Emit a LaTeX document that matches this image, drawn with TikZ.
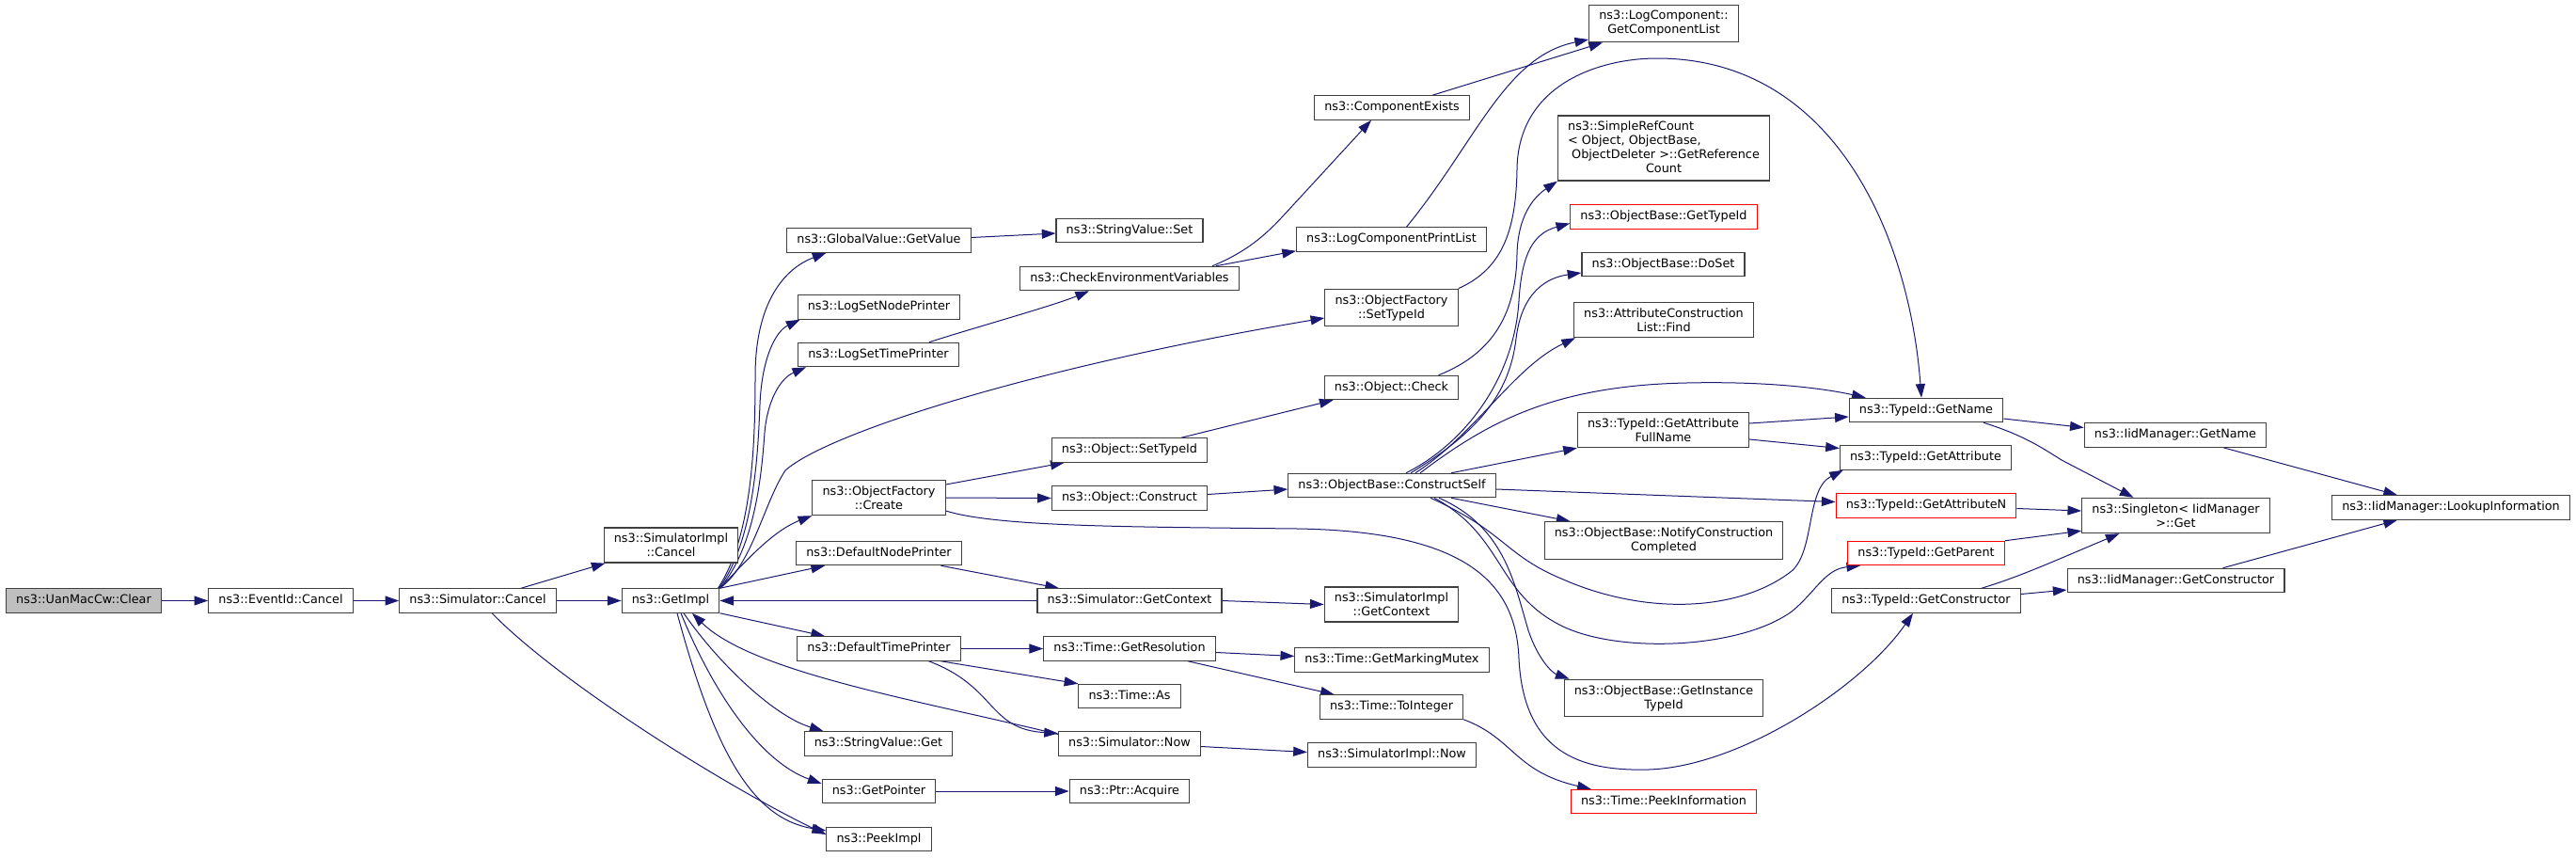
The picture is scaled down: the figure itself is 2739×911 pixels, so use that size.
\documentclass[tikz,border=0pt]{standalone}
\usepackage{fontspec}
\setmainfont{DejaVu Sans}
\usetikzlibrary{arrows.meta,calc}

\definecolor{edgeblue}{RGB}{25,25,112}
\definecolor{boxline}{RGB}{64,64,64}
\definecolor{rootfill}{RGB}{191,191,191}

\pgfdeclarelayer{edges}
\pgfsetlayers{edges,main}

\tikzset{every picture/.style={line width=0.75pt}}
\tikzset{
  fn/.style={draw=boxline, line width=0.9pt, fill=white, font=\fontsize{9.6}{11.25}\selectfont,
    inner xsep=8pt, inner ysep=0pt, minimum height=19pt, text height=7.3pt, text depth=2.3pt},
  fn2/.style={draw=boxline, line width=0.9pt, fill=white, font=\fontsize{9.6}{11.25}\selectfont,
    inner xsep=8pt, inner ysep=4.6pt, align=center},
  root/.style={fill=rootfill},
  undoc/.style={draw=red},
  call/.style={draw=edgeblue, line width=0.75pt, -{Triangle[length=11pt,width=7.5pt]}}
}

\begin{document}
\begin{tikzpicture}[x=0.75pt,y=0.75pt,yscale=-1,xscale=1]
        \useasboundingbox (0,0) rectangle (2739,911);

        % Text Nodes, column by column
        \node[fn,root] (clear) at (89,638.5) {ns3::UanMacCw::Clear};
        \node[fn] (ec) at (298.5,638.5) {ns3::EventId::Cancel};
        \node[fn] (sc) at (508,638.5) {ns3::Simulator::Cancel};
        \node[fn2] (sic) at (713.5,579.5) {ns3::SimulatorImpl\\::Cancel};
        \node[fn] (gi) at (713,638.5) {ns3::GetImpl};

        \node[fn] (gv) at (934.5,255.5) {ns3::GlobalValue::GetValue};
        \node[fn] (lsnp) at (934.5,326.5) {ns3::LogSetNodePrinter};
        \node[fn] (lstp) at (934,377) {ns3::LogSetTimePrinter};
        \node[fn2] (ofc) at (934.5,529) {ns3::ObjectFactory\\::Create};
        \node[fn] (dnp) at (934.5,588) {ns3::DefaultNodePrinter};
        \node[fn] (dtp) at (934.5,689.5) {ns3::DefaultTimePrinter};
        \node[fn] (svg) at (934,790.5) {ns3::StringValue::Get};
        \node[fn] (gp) at (934.5,841) {ns3::GetPointer};
        \node[fn] (pi) at (934.5,892) {ns3::PeekImpl};

        \node[fn] (svs) at (1201,245) {ns3::StringValue::Set};
        \node[fn] (cev) at (1201,296) {ns3::CheckEnvironmentVariables};
        \node[fn] (osti) at (1201,478.5) {ns3::Object::SetTypeId};
        \node[fn] (oc) at (1201,529.5) {ns3::Object::Construct};
        \node[fn] (sgc) at (1201,638.5) {ns3::Simulator::GetContext};
        \node[fn] (tgr) at (1201,689.5) {ns3::Time::GetResolution};
        \node[fn] (ta) at (1201,740) {ns3::Time::As};
        \node[fn] (sn) at (1201,790.5) {ns3::Simulator::Now};
        \node[fn] (pa) at (1201,841) {ns3::Ptr::Acquire};

        \node[fn] (ce) at (1480,114.5) {ns3::ComponentExists};
        \node[fn] (lcpl) at (1479.5,254.5) {ns3::LogComponentPrintList};
        \node[fn2] (ofst) at (1479.5,327) {ns3::ObjectFactory\\::SetTypeId};
        \node[fn] (ochk) at (1479.5,412) {ns3::Object::Check};
        \node[fn] (obcs) at (1480,516) {ns3::ObjectBase::ConstructSelf};
        \node[fn2] (sigc) at (1479.5,642.5) {ns3::SimulatorImpl\\::GetContext};
        \node[fn] (tgmm) at (1480,701.5) {ns3::Time::GetMarkingMutex};
        \node[fn] (tti) at (1479.5,751.5) {ns3::Time::ToInteger};
        \node[fn] (sin) at (1480,802.5) {ns3::SimulatorImpl::Now};

        \node[fn2] (lcgcl) at (1769,25) {ns3::LogComponent::\\GetComponentList};
        \node[fn2,inner ysep=3.4pt] (src) at (1769,157.5) {\begin{tabular}{@{}l@{}}ns3::SimpleRefCount\\< Object, ObjectBase,\\\ ObjectDeleter >::GetReference\\\multicolumn{1}{@{}c@{}}{Count}\end{tabular}};
        \node[fn,undoc] (obgt) at (1769,230.5) {ns3::ObjectBase::GetTypeId};
        \node[fn] (obds) at (1768.5,281) {ns3::ObjectBase::DoSet};
        \node[fn2] (acl) at (1769,340) {ns3::AttributeConstruction\\List::Find};
        \node[fn2] (tgafn) at (1768.5,457) {ns3::TypeId::GetAttribute\\FullName};
        \node[fn2] (obncc) at (1769,574.5) {ns3::ObjectBase::NotifyConstruction\\Completed};
        \node[fn2] (obgit) at (1769,742) {ns3::ObjectBase::GetInstance\\TypeId};
        \node[fn,undoc] (tpi) at (1769,852) {ns3::Time::PeekInformation};

        \node[fn] (tgn) at (2048,436) {ns3::TypeId::GetName};
        \node[fn] (tga) at (2047.5,486.5) {ns3::TypeId::GetAttribute};
        \node[fn,undoc] (tgan) at (2048,537.5) {ns3::TypeId::GetAttributeN};
        \node[fn,undoc] (tgp) at (2048,588) {ns3::TypeId::GetParent};
        \node[fn] (tgc) at (2048,638.5) {ns3::TypeId::GetConstructor};

        \node[fn] (imgn) at (2313,462.5) {ns3::IidManager::GetName};
        \node[fn2] (sig) at (2313.5,548) {ns3::Singleton< IidManager\\>::Get};
        \node[fn] (imgc) at (2313.5,617) {ns3::IidManager::GetConstructor};
        \node[fn] (imli) at (2606,539.5) {ns3::IidManager::LookupInformation};

        \begin{pgfonlayer}{edges}
        % Calls: root chain
        \draw[call] (clear.east) -- (ec.west);
        \draw[call] (ec.east) -- (sc.west);
        \draw[call] ($(sc.north)+(46,0)$) -- ($(sic.south)+(-70,0)$);
        \draw[call] (sc.east) -- (gi.west);
        \draw[call] ($(sc.south)+(15,0)$) .. controls (600,730) and (780,840) .. ($(pi.west)+(0,-5)$);

        % Calls out of GetImpl
        \draw[call] ($(gi.north east)+(-2,0)$) .. controls (800,570) and (803,470) .. (803,400) .. controls (803,320) and (835,285) .. ($(gv.south)+(-56,0)$);
        \draw[call] ($(gi.north east)+(-1,0)$) .. controls (802,575) and (806,480) .. (808,430) .. controls (810,380) and (825,352) .. ($(lsnp.south west)+(3,0)$);
        \draw[call] (gi.north east) .. controls (804,580) and (810,500) .. (813,460) .. controls (816,425) and (830,402) .. ($(lstp.south west)+(9,0)$);
        \draw[call] (gi.north east) .. controls (800,600) and (812,535) .. (835,500) .. controls (880,460) and (1100,390) .. ($(ofst.west)+(0,11)$);
        \draw[call] (gi.north east) .. controls (790,600) and (820,565) .. (ofc.south west);
        \draw[call] (gi.north east) -- ($(dnp.south west)+(31,0)$);
        \draw[call] (gi.south east) -- ($(dtp.north west)+(30,0)$);
        \draw[call] ($(gi.south)+(14,0)$) .. controls (760,700) and (820,760) .. ($(svg.north west)+(21,0)$);
        \draw[call] ($(gi.south)+(11,0)$) .. controls (760,740) and (810,810) .. ($(gp.west)+(0,-8)$);
        \draw[call] ($(gi.south)+(7,0)$) .. controls (760,800) and (800,870) .. ($(pi.west)+(0,-9)$);

        % Calls back into GetImpl
        \draw[call] (sgc.west) -- (gi.east);
        \draw[call] ($(sn.west)+(0,-10)$) .. controls (980,745) and (800,715) .. ($(gi.south)+(23,0)$);

        % Third column
        \draw[call] ($(gv.east)+(0,-3)$) -- ($(svs.west)+(0,3)$);
        \draw[call] ($(lstp.north)+(54,0)$) .. controls (1030,350) and (1120,325) .. ($(cev.south)+(-43,0)$);
        \draw[call] ($(dnp.south)+(66,0)$) -- ($(sgc.north)+(-75,0)$);
        \draw[call] (dtp.east) -- (tgr.west);
        \draw[call] ($(dtp.south)+(66,0)$) -- (ta.north west);
        \draw[call] ($(dtp.south)+(53,0)$) .. controls (1060,730) and (1050,775) .. ($(sn.west)+(0,-11)$);
        \draw[call] ($(ofc.east)+(0,-14)$) -- ($(osti.south west)+(14,0)$);
        \draw[call] (ofc.east) -- (oc.west);
        \draw[call] ($(ofc.east)+(0,14)$) .. controls (1060,560) and (1200,560) .. (1380,562) .. controls (1560,565) and (1612,620) .. (1615,700) .. controls (1620,800) and (1680,820) .. (1753,818) .. controls (1850,815) and (1980,730) .. ($(tgc.south)+(-14,0)$);
        \draw[call] (gp.east) -- (pa.west);

        % Fourth column
        \draw[call] ($(oc.east)+(0,-4)$) -- ($(obcs.west)+(0,4)$);
        \draw[call] ($(osti.north)+(55,0)$) -- ($(ochk.south west)+(10,0)$);
        \draw[call] ($(cev.north)+(88,0)$) .. controls (1325,268) and (1345,250) .. (1362,232) -- ($(ce.south)+(-22,0)$);
        \draw[call] ($(cev.north east)+(-25,0)$) -- ($(lcpl.south west)+(0,-1)$);
        \draw[call] (sgc.east) -- (sigc.west);
        \draw[call] ($(tgr.east)+(0,4)$) -- ($(tgmm.west)+(0,-4)$);
        \draw[call] ($(tgr.south)+(62,0)$) -- ($(tti.north west)+(16,0)$);
        \draw[call] ($(sn.east)+(0,3)$) -- ($(sin.west)+(0,-3)$);

        % Fifth column
        \draw[call] ($(ce.north)+(43,0)$) -- ($(lcgcl.south)+(-65,0)$);
        \draw[call] ($(lcpl.north)+(16,0)$) .. controls (1570,150) and (1600,60) .. ($(lcgcl.west)+(0,17)$);
        \draw[call] (ofst.north east) .. controls (1600,285) and (1612,240) .. (1613,180) .. controls (1614,90) and (1700,62) .. (1762,62) .. controls (1950,62) and (2030,250) .. ($(tgn.north)+(-5,0)$);
        \draw[call] ($(ochk.north)+(50,0)$) .. controls (1590,375) and (1612,330) .. (1613,270) .. controls (1614,230) and (1630,210) .. (src.south west);
        \draw[call] (tti.south east) .. controls (1610,785) and (1610,820) .. ($(tpi.north west)+(22,0)$);

        % ConstructSelf
        \draw[call] ($(obcs.north)+(15,0)$) .. controls (1560,470) and (1610,400) .. (1615,320) .. controls (1618,270) and (1630,248) .. ($(obgt.west)+(0,7)$);
        \draw[call] ($(obcs.north)+(20,0)$) .. controls (1570,460) and (1605,420) .. (1612,360) .. controls (1618,310) and (1645,295) .. ($(obds.west)+(0,9)$);
        \draw[call] ($(obcs.north)+(25,0)$) .. controls (1570,460) and (1610,390) .. ($(acl.south west)+(2,0)$);
        \draw[call] ($(obcs.north)+(30,0)$) .. controls (1580,450) and (1650,410) .. (1793,407) .. controls (1880,405) and (1940,413) .. ($(tgn.north west)+(18,0)$);
        \draw[call] ($(obcs.north)+(63,0)$) -- (tgafn.south west);
        \draw[call] ($(obcs.east)+(0,4)$) -- ($(tgan.west)+(0,-4)$);
        \draw[call] ($(obcs.south)+(63,0)$) -- ($(obncc.north west)+(28,0)$);
        \draw[call] ($(obcs.south)+(41,0)$) .. controls (1600,565) and (1600,590) .. (1660,615) .. controls (1750,655) and (1850,650) .. (1905,607) .. controls (1930,585) and (1920,520) .. ($(tga.south west)+(4,0)$);
        \draw[call] ($(obcs.south)+(45,0)$) .. controls (1600,570) and (1590,630) .. (1660,665) .. controls (1720,695) and (1850,690) .. (1905,650) .. controls (1930,630) and (1940,605) .. ($(tgp.south west)+(14,0)$);
        \draw[call] ($(obcs.south)+(50,0)$) .. controls (1600,560) and (1610,620) .. (1625,670) .. controls (1635,700) and (1650,715) .. ($(obgit.north west)+(6,0)$);

        % TypeId and IidManager
        \draw[call] ($(tgafn.east)+(0,-7)$) -- ($(tgn.west)+(0,7)$);
        \draw[call] ($(tgafn.east)+(0,10)$) -- ($(tga.west)+(0,-10)$);
        \draw[call] ($(tgn.east)+(0,9)$) -- ($(imgn.west)+(0,-8)$);
        \draw[call] ($(tgn.south)+(61,0)$) .. controls (2150,462) and (2170,475) .. (2192,489) -- ($(sig.north)+(-45,0)$);
        \draw[call] ($(tgan.east)+(0,3)$) -- ($(sig.west)+(0,-5)$);
        \draw[call] (tgp.north east) -- ($(sig.south west)+(0,-3)$);
        \draw[call] ($(tgc.north)+(59,0)$) .. controls (2150,612) and (2180,598) .. ($(sig.south)+(-60,0)$);
        \draw[call] ($(tgc.east)+(0,-7)$) -- ($(imgc.west)+(0,10)$);
        \draw[call] ($(imgn.south)+(51,0)$) -- ($(imli.north)+(-57,0)$);
        \draw[call] ($(imgc.north)+(50,0)$) -- ($(imli.south)+(-57,0)$);
        \end{pgfonlayer}

    \end{tikzpicture}
\end{document}
